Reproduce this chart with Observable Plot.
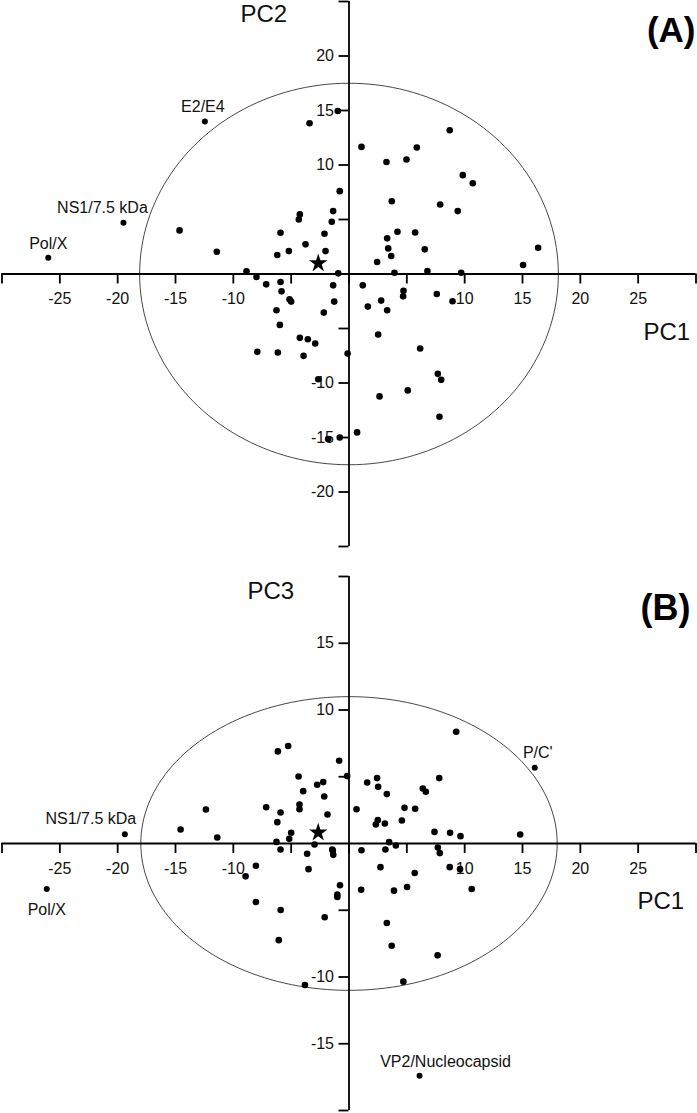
<!DOCTYPE html>
<html>
<head>
<meta charset="utf-8">
<script src="https://cdn.jsdelivr.net/npm/d3@7"></script>
<script src="https://cdn.jsdelivr.net/npm/@observablehq/plot@0.6"></script>
<style>
html, body { margin: 0; padding: 0; background: #fff; }
#chart svg { display: block; }
</style>
</head>
<body>
<div id="chart"></div>
<script>
// ---------- Panel A: PC1 vs PC2 ----------
const pc1A = [-14.65,-11.43,-8.86,-8.0,-7.16,-5.92,-6.2,-5.2,-5.92,-4.34,-4.25,-3.76,-3.41,-2.03,-2.12,-1.49,-1.37,-0.97,-0.8,-0.93,
  1.08,3.24,4.97,5.86,8.71,9.84,10.7,3.7,7.88,9.4,4.19,5.72,3.3,3.39,3.65,6.55,2.43,16.35,15.05,3.93,6.78,9.7,
  -5.83,-5.14,-5.0,-6.27,-2.18,-1.37,-1.28,-5.98,-4.25,-3.56,-2.92,-3.93,-7.93,-6.15,-0.12,-2.66,-1.8,-0.8,
  1.19,1.63,2.78,3.3,4.71,4.68,7.59,8.95,2.52,6.15,7.68,7.97,5.08,2.64,7.82,0.7];
const pc2A = [4.0,2.04,0.25,-0.27,-0.95,-0.73,1.74,2.1,3.78,5.0,5.47,2.72,13.83,2.1,3.69,4.79,5.77,14.96,7.6,0.06,
  11.66,10.28,10.5,11.6,13.19,9.07,8.33,6.68,6.38,5.77,3.88,3.81,3.27,2.35,1.65,2.26,1.1,2.41,0.82,0.12,0.27,0.12,
  -1.59,-2.32,-2.53,-3.33,-3.54,-1.04,-2.53,-4.67,-5.86,-5.98,-6.38,-7.51,-7.14,-7.2,-7.3,-9.65,-15.14,-15.0,
  -1.04,-2.99,-2.44,-3.33,-1.53,-2.05,-1.83,-2.5,-5.55,-6.84,-9.16,-9.71,-10.68,-11.23,-13.1,-14.53];
const namesA = ["Pol/X", "NS1/7.5 kDa", "E2/E4"];
const namedPc1A = [-26.0, -19.5, -12.46];
const namedPc2A = [1.49, 4.70, 13.98];
const starA = [-2.66, 0.98];
const ellipseA = [18.1, 17.5];   // semi-axes (PC1, PC2)

// ---------- Panel B: PC1 vs PC3 ----------
const pc1B = [-14.56,-12.37,-11.39,-7.16,-6.15,-5.26,-5.92,-6.2,-6.27,-5.0,-5.17,-4.36,-3.96,-4.28,-4.28,-2.75,-2.23,-2.14,-1.86,-0.85,-0.16,
  -2.98,-1.45,-5.92,9.27,1.57,2.43,2.52,3.27,6.38,6.64,7.8,0.65,4.8,5.72,4.57,2.32,2.49,3.1,7.39,8.74,9.64,14.8,3.47,4.05,7.68,1.08,3.15,
  -8.05,-8.94,-8.05,-5.91,-6.07,-3.62,-3.5,-2.1,-1.4,-1.36,-0.78,-1.01,-1.01,-3.81,1.05,2.72,3.89,5.02,5.68,3.27,3.69,4.7,7.85,8.71,9.6,10.61,7.66];
const pc3B = [1.05,2.55,0.45,2.72,6.9,7.3,2.32,1.6,0.12,0.8,0.35,5.02,3.92,2.92,2.57,4.4,4.6,3.52,2.17,6.2,5.05,
  -0.08,-0.45,-0.45,8.37,4.57,4.9,4.25,3.7,4.12,3.87,4.9,2.57,2.67,2.6,1.72,1.42,1.75,1.5,0.87,0.8,0.55,0.67,0.1,-0.15,-0.3,-0.5,-0.45,
  -1.67,-2.46,-4.38,-4.98,-7.24,-0.77,-1.92,-5.52,-0.52,-0.85,-3.13,-3.83,-4.0,-10.6,-3.46,-1.77,-3.53,-3.26,-2.21,-5.95,-7.66,-10.35,-0.72,-1.77,-1.92,-3.41,-8.38];
const namesB = ["NS1/7.5 kDa", "Pol/X", "P/C'", "VP2/Nucleocapsid"];
const namedPc1B = [-19.38, -26.13, 16.06, 6.1];
const namedPc3B = [0.7, -3.41, 5.67, -17.39];
const starB = [-2.66, 0.82];
const ellipseB = [18.0, 11.0];   // semi-axes (PC1, PC3)

// ---------- axis ticks ----------
const xTicks = [-30,-25,-20,-15,-10,-5,0,5,10,15,20,25,30];
const xTickLabels = [-25,-20,-15,-10,10,15,20,25];
const yTicksA = [-25,-20,-15,-10,-5,5,10,15,20,25];
const yTickLabelsA = [-20,-15,-10,10,15,20];
const yTicksB = [-20,-15,-10,-5,5,10,15,20];
const yTickLabelsB = [-15,-10,10,15];

const W = 697;
const FONT = "'Liberation Sans', Arial, Helvetica, sans-serif";

function panel(cfg) {
  const {pc1, pcY, names, namedX, namedY, star, ell, xDomain, yDomain, yTicks, yTickLabels,
         height, mt, mb, ml, mr, yName, xName, tag, yNamePos, xNamePos, tagPos, labelOffsets, tagSize} = cfg;
  const kx = (W - ml - mr) / (xDomain[1] - xDomain[0]);
  const ky = (height - mt - mb) / (yDomain[1] - yDomain[0]);
  const tick = 10;
  const pts = pc1.map((x, i) => ({x, y: pcY[i]}));
  const named = names.map((n, i) => ({name: n, x: namedX[i], y: namedY[i]}));
  const ellPts = d3.range(0, 361, 2).map(a => {
    const t = a * Math.PI / 180;
    return {x: ell[0] * Math.cos(t), y: ell[1] * Math.sin(t)};
  });
  const axisStyle = {stroke: "black", strokeWidth: 1.8};
  const labelMarks = named.map(d => {
    const [dx, dy] = labelOffsets[d.name];
    return Plot.text([d], {x: "x", y: "y", text: "name", dx, dy, lineAnchor: "bottom",
      textAnchor: "middle", fontSize: 16, fill: "#111"});
  });
  return Plot.plot({
    width: W, height,
    marginTop: mt, marginBottom: mb, marginLeft: ml, marginRight: mr,
    x: {domain: xDomain, axis: null},
    y: {domain: yDomain, axis: null},
    style: {fontFamily: FONT, background: "white", overflow: "visible"},
    marks: [
      Plot.line(ellPts, {x: "x", y: "y", stroke: "#333", strokeWidth: 0.9}),
      Plot.ruleY([0], {x1: xDomain[0], x2: xDomain[1], ...axisStyle}),
      Plot.ruleX([0], {y1: yDomain[0], y2: yDomain[1], ...axisStyle}),
      Plot.ruleX(xTicks, {x: d => d, y1: 0, y2: -tick / ky, ...axisStyle}),
      Plot.ruleY(yTicks, {y: d => d, x1: 0, x2: -tick / kx, ...axisStyle}),
      Plot.text(xTickLabels, {x: d => d, y: 0, dy: 25, text: d => String(d), fontSize: 16, fill: "#111"}),
      Plot.text(yTickLabels, {x: 0, y: d => d, dx: -15, text: d => String(d), textAnchor: "end", fontSize: 16, fill: "#111"}),
      Plot.dot(pts, {x: "x", y: "y", r: 3.3, fill: "black"}),
      Plot.dot(named, {x: "x", y: "y", r: 3, fill: "black"}),
      Plot.dot([star], {x: d => d[0], y: d => d[1], symbol: "star", r: 5.8, fill: "black"}),
      ...labelMarks,
      Plot.text([yName], {frameAnchor: "top-left", textAnchor: "start", lineAnchor: "bottom",
        dx: yNamePos[0] - ml, dy: yNamePos[1] - mt, fontSize: 24, fill: "#111"}),
      Plot.text([xName], {frameAnchor: "top-left", textAnchor: "start", lineAnchor: "bottom",
        dx: xNamePos[0] - ml, dy: xNamePos[1] - mt, fontSize: 24, fill: "#111"}),
      Plot.text([tag], {frameAnchor: "top-left", textAnchor: "end", lineAnchor: "bottom",
        dx: tagPos[0] - ml, dy: tagPos[1] - mt, fontSize: tagSize, fontWeight: "bold", fill: "#000"})
    ]
  });
}

const chart = document.getElementById("chart");

chart.append(panel({
  pc1: pc1A, pcY: pc2A, names: namesA, namedX: namedPc1A, namedY: namedPc2A, star: starA, ell: ellipseA,
  xDomain: [-30, 30], yDomain: [-25, 25], yTicks: yTicksA, yTickLabels: yTickLabelsA,
  height: 556, mt: 1, mb: 10, ml: 1.5, mr: 1.5,
  yName: "PC2", xName: "PC1", tag: "(A)",
  yNamePos: [240, 21], xNamePos: [643, 339], tagPos: [695, 41], tagSize: 35,
  labelOffsets: {"Pol/X": [0, -8.5], "NS1/7.5 kDa": [-21, -10], "E2/E4": [-2, -10]}
}));

chart.append(panel({
  pc1: pc1B, pcY: pc3B, names: namesB, namedX: namedPc1B, namedY: namedPc3B, star: starB, ell: ellipseB,
  xDomain: [-30, 30], yDomain: [-20, 20], yTicks: yTicksB, yTickLabels: yTickLabelsB,
  height: 557, mt: 20, mb: 3, ml: 1.5, mr: 1.5,
  yName: "PC3", xName: "PC1", tag: "(B)",
  yNamePos: [247, 598 - 556], xNamePos: [637, 908 - 556], tagPos: [690, 619 - 556], tagSize: 36,
  labelOffsets: {"NS1/7.5 kDa": [-34, -10.5], "Pol/X": [0, 26], "P/C'": [3, -10], "VP2/Nucleocapsid": [26, -9]}
}));
</script>
</body>
</html>
